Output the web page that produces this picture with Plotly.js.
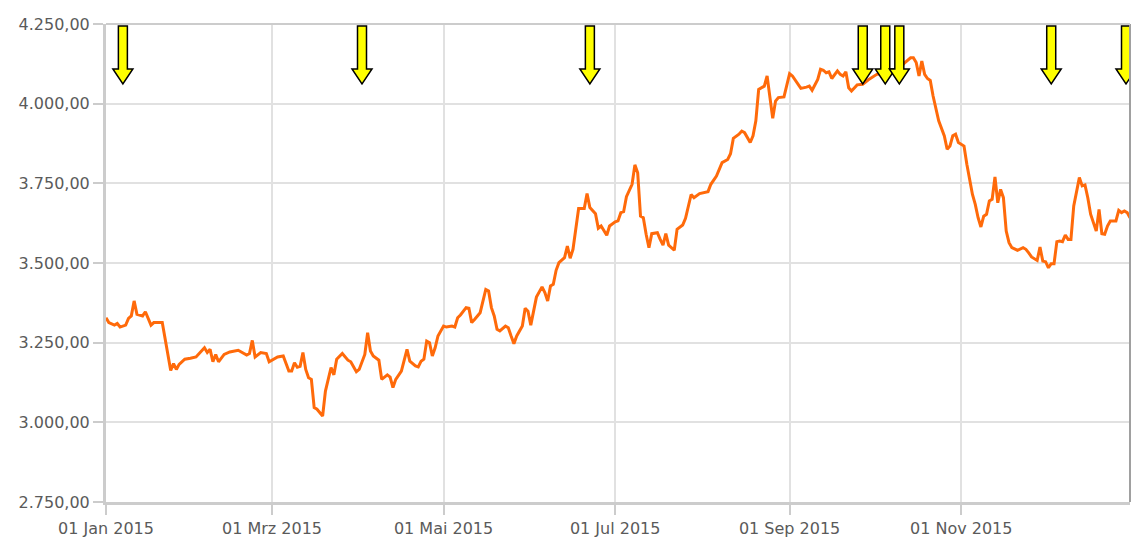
<!DOCTYPE html>
<html>
<head>
<meta charset="utf-8">
<script src="https://cdn.plot.ly/plotly-3.0.1.min.js"></script>
<style>html,body{margin:0;padding:0;background:#fff;}#chart{width:1133px;height:539px;}</style>
</head>
<body>
<div id="chart"></div>
<script>
const dates = [
"2015-01-01","2015-01-02","2015-01-04","2015-01-05","2015-01-06","2015-01-08","2015-01-09","2015-01-10","2015-01-11","2015-01-12",
"2015-01-14","2015-01-15","2015-01-17","2015-01-18","2015-01-21","2015-01-22","2015-01-23","2015-01-24","2015-01-25","2015-01-26",
"2015-01-27","2015-01-29","2015-01-31","2015-02-02","2015-02-05","2015-02-06","2015-02-07","2015-02-08","2015-02-09","2015-02-10",
"2015-02-12","2015-02-14","2015-02-17","2015-02-20","2015-02-21","2015-02-22","2015-02-23","2015-02-25","2015-02-27","2015-02-28",
"2015-03-03","2015-03-05","2015-03-07","2015-03-08","2015-03-09","2015-03-10","2015-03-11","2015-03-12","2015-03-13","2015-03-14",
"2015-03-15","2015-03-16","2015-03-17","2015-03-19","2015-03-20","2015-03-22","2015-03-23","2015-03-24","2015-03-26","2015-03-28",
"2015-03-29","2015-03-31","2015-04-01","2015-04-03","2015-04-04",
"2015-04-05","2015-04-06","2015-04-08","2015-04-09","2015-04-11","2015-04-12","2015-04-13","2015-04-14","2015-04-16","2015-04-18",
"2015-04-19","2015-04-21","2015-04-22","2015-04-23","2015-04-24","2015-04-25","2015-04-26","2015-04-27","2015-04-28","2015-04-29",
"2015-05-01","2015-05-02","2015-05-04","2015-05-05","2015-05-06","2015-05-07","2015-05-09","2015-05-10","2015-05-11","2015-05-12",
"2015-05-14","2015-05-16","2015-05-17","2015-05-18","2015-05-19","2015-05-20","2015-05-21","2015-05-23","2015-05-24","2015-05-25",
"2015-05-26","2015-05-27","2015-05-29","2015-05-30","2015-05-31","2015-06-01","2015-06-02","2015-06-03","2015-06-05","2015-06-06",
"2015-06-07","2015-06-08","2015-06-09","2015-06-10","2015-06-11","2015-06-13","2015-06-14","2015-06-15","2015-06-16","2015-06-17",
"2015-06-18","2015-06-20","2015-06-21","2015-06-22","2015-06-23","2015-06-24","2015-06-25","2015-06-26","2015-06-28","2015-06-29",
"2015-07-01","2015-07-02","2015-07-03","2015-07-04","2015-07-05","2015-07-07","2015-07-08",
"2015-07-09","2015-07-10","2015-07-11","2015-07-12","2015-07-13","2015-07-14","2015-07-16","2015-07-17","2015-07-18","2015-07-19",
"2015-07-20","2015-07-22","2015-07-23","2015-07-25","2015-07-26","2015-07-28","2015-07-29","2015-07-31","2015-08-03","2015-08-04",
"2015-08-06","2015-08-08","2015-08-10","2015-08-11","2015-08-12","2015-08-14","2015-08-15","2015-08-16","2015-08-18","2015-08-19",
"2015-08-20","2015-08-21","2015-08-23","2015-08-24","2015-08-25","2015-08-26","2015-08-27","2015-08-28","2015-08-30","2015-08-31",
"2015-09-01","2015-09-02","2015-09-05","2015-09-07","2015-09-08","2015-09-09","2015-09-11","2015-09-12","2015-09-13","2015-09-14",
"2015-09-15","2015-09-16","2015-09-18","2015-09-19","2015-09-20","2015-09-21","2015-09-22","2015-09-23","2015-09-25","2015-09-27",
"2015-09-29","2015-10-02","2015-10-05","2015-10-08","2015-10-10","2015-10-12","2015-10-14","2015-10-15","2015-10-16","2015-10-17",
"2015-10-18","2015-10-19","2015-10-20","2015-10-21","2015-10-22","2015-10-23","2015-10-24","2015-10-26","2015-10-27","2015-10-28",
"2015-10-29","2015-10-30","2015-10-31","2015-11-02","2015-11-03","2015-11-05","2015-11-06","2015-11-07","2015-11-08","2015-11-09",
"2015-11-10","2015-11-11","2015-11-12","2015-11-13","2015-11-14","2015-11-15","2015-11-16","2015-11-17","2015-11-18","2015-11-19",
"2015-11-21","2015-11-23","2015-11-24","2015-11-25","2015-11-26","2015-11-28","2015-11-29","2015-11-30","2015-12-01","2015-12-02",
"2015-12-03","2015-12-04","2015-12-05","2015-12-06","2015-12-07","2015-12-08","2015-12-09","2015-12-10","2015-12-11","2015-12-13",
"2015-12-14","2015-12-15","2015-12-16","2015-12-17","2015-12-19","2015-12-20","2015-12-21","2015-12-22","2015-12-23","2015-12-24",
"2015-12-26","2015-12-27","2015-12-28","2015-12-29","2015-12-30","2015-12-31"
];
const values = [
3328,3313,3305,3310,3299,3305,3326,3334,3381,3339,
3334,3347,3305,3313,3313,3266,3213,3163,3184,3166,
3182,3198,3201,3205,3234,3219,3229,3190,3213,3190,
3213,3221,3226,3211,3216,3257,3205,3219,3216,3190,
3205,3208,3161,3161,3187,3173,3176,3219,3166,3140,
3135,3046,3041,3020,3098,3172,3149,3198,3216,3195,
3190,3159,3166,3213,3281,
3224,3208,3195,3135,3149,3142,3109,3135,3161,3229,
3192,3177,3174,3192,3198,3255,3250,3208,3234,3271,
3302,3299,3302,3299,3328,3337,3360,3358,3313,3323,
3344,3417,3412,3360,3334,3292,3287,3302,3297,3271,
3247,3271,3302,3358,3349,3305,3355,3393,3425,3407,
3381,3428,3433,3477,3501,3517,3553,3515,3543,3611,
3671,3671,3718,3674,3663,3655,3609,3616,3587,3616,
3629,3632,3658,3661,3708,3747,3808,
3783,3647,3642,3590,3548,3592,3595,3574,3556,3592,
3556,3540,3606,3619,3640,3715,3705,3718,3724,3747,
3773,3815,3825,3843,3891,3904,3914,3909,3878,3899,
3946,4045,4055,4087,4014,3954,4008,4019,4021,4061,
4094,4087,4048,4052,4055,4042,4076,4108,4105,4097,
4100,4079,4103,4092,4087,4100,4050,4040,4059,4061,
4075,4092,4095,4097,4110,4129,4144,4144,4129,4087,
4134,4092,4079,4073,4024,3987,3946,3899,3857,3867,
3899,3904,3878,3867,3810,3715,3684,3642,3613,3647,
3653,3695,3700,3770,3689,3731,3705,3600,3564,3548,
3540,3548,3543,3532,3519,3508,3550,3506,3504,3485,
3498,3498,3567,3569,3567,3588,3574,3574,3679,3768,
3742,3745,3705,3653,3600,3668,3592,3590,3616,3632,
3632,3665,3658,3663,3658,3642
];
const arrowDates = ["2015-01-07","2015-04-02","2015-06-22","2015-09-27","2015-10-05","2015-10-10","2015-12-03","2015-12-29 14:00"];
const xTickVals = ["2015-01-01","2015-03-01","2015-05-01","2015-07-01","2015-09-01","2015-11-01"];
const xTickText = ["01 Jan 2015","01 Mrz 2015","01 Mai 2015","01 Jul 2015","01 Sep 2015","01 Nov 2015"];
const yTickVals = [2750,3000,3250,3500,3750,4000,4250];

const arrowPath = "M -4.5,-2 L 4.5,-2 L 4.5,-45 L 10,-45 L 0,-60 L -10,-45 L -4.5,-45 Z";
const shapes = arrowDates.map(d => ({
  type: 'path', xref: 'x', yref: 'paper', xsizemode: 'pixel', ysizemode: 'pixel',
  xanchor: d, yanchor: 1, path: arrowPath,
  fillcolor: '#ffff00', line: {color: '#000000', width: 1.5}, layer: 'above'
}));
shapes.push({type:'line', xref:'paper', yref:'paper', x0:1, x1:1, y0:0, y1:1, line:{color:'#a0a0a0', width:2}, layer:'above'});
shapes.push({type:'line', xref:'paper', yref:'paper', x0:0, x1:1, y0:1, y1:1, line:{color:'#cccccc', width:2}, layer:'above'});

const font = {family: 'DejaVu Sans, Verdana, sans-serif', size: 16, color: '#5a5a5a'};

Plotly.newPlot('chart', [{
  x: dates, y: values, type: 'scatter', mode: 'lines',
  line: {color: '#ff6a0a', width: 3, shape: 'linear'},
  hoverinfo: 'skip'
}], {
  width: 1133, height: 539,
  margin: {l: 106, r: 3, t: 24, b: 37, pad: 0},
  paper_bgcolor: '#ffffff', plot_bgcolor: '#ffffff',
  separators: ',.',
  showlegend: false,
  font: font,
  xaxis: {
    type: 'date', range: ['2015-01-01', '2015-12-31'],
    tickmode: 'array', tickvals: xTickVals, ticktext: xTickText,
    showgrid: true, gridcolor: '#e1e1e1', gridwidth: 2,
    showline: true, linecolor: '#cccccc', linewidth: 3, mirror: false,
    ticks: 'outside', ticklen: 10, tickwidth: 2, tickcolor: '#cccccc',
    tickfont: font, zeroline: false, fixedrange: true
  },
  yaxis: {
    range: [2750, 4250], tickmode: 'array', tickvals: yTickVals, tickformat: ',.2f',
    showgrid: true, gridcolor: '#e1e1e1', gridwidth: 2,
    showline: true, linecolor: '#cccccc', linewidth: 3, mirror: false,
    ticks: 'outside', ticklen: 10, tickwidth: 2, tickcolor: '#cccccc',
    tickfont: font, zeroline: false, fixedrange: true
  },
  shapes: shapes
}, {staticPlot: true, displayModeBar: false});
</script>
</body>
</html>
